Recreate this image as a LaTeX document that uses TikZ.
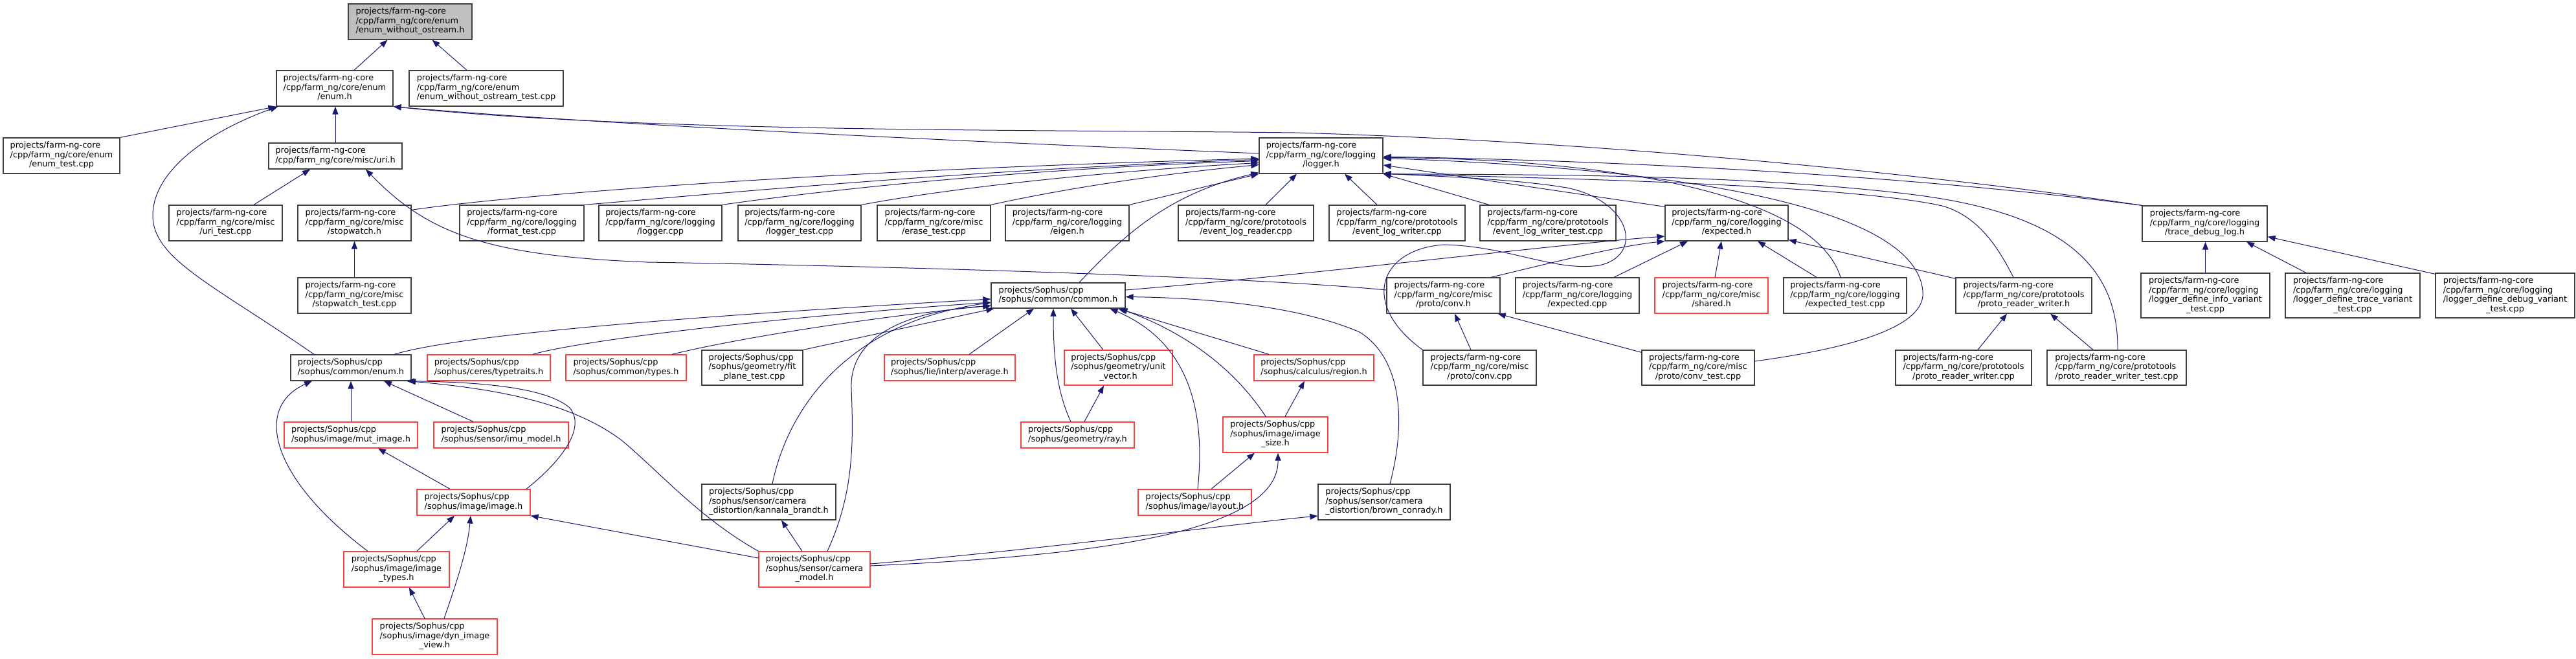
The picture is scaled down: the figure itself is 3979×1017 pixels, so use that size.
\documentclass[tikz,border=0pt]{standalone}
\usepackage{fontspec}
\setmainfont{DejaVu Sans}
\usepackage{tikz}
\usetikzlibrary{arrows.meta}
\definecolor{nodeln}{RGB}{64,64,64}
\definecolor{truncln}{RGB}{255,64,64}
\definecolor{rootfill}{RGB}{191,191,191}
\definecolor{deplink}{RGB}{25,25,112}
% first lines flush left, last line centred (doxygen style)
\newcommand{\dlabel}[2]{\begin{tabular}{@{}l@{}}#1\\\multicolumn{1}{@{}c@{}}{#2}\end{tabular}}

\begin{document}
\begin{tikzpicture}[x=1pt,y=-1pt,font=\fontsize{12.9}{14.5}\selectfont,
  >={Triangle[length=12pt,width=9pt]},
  box/.style n args={4}{minimum width={#3-#1},minimum height={#4-#2},at={({(#1+#3)/2},{(#2+#4)/2})}},
  hdr/.style={draw=nodeln,line width=1.3pt,fill=white,inner sep=0pt},
  trunc/.style={hdr,draw=truncln},
  root/.style={hdr,fill=rootfill},
  dep/.style={->,draw=deplink,line width=1pt}]
  \fill[white] (0,0) rectangle (3979,1017);
  \useasboundingbox (0,0) rectangle (3979,1017);

  % farm-ng-core
  \node[root,box={538}{6}{729}{61}] (ewo) {\dlabel{projects/farm-ng-core\\/cpp/farm\_ng/core/enum}{/enum\_without\_ostream.h}};
  \node[hdr,box={427}{109}{607}{164}] (enumh) {\dlabel{projects/farm-ng-core\\/cpp/farm\_ng/core/enum}{/enum.h}};
  \node[hdr,box={632}{109}{870}{164}] (ewotest) {\dlabel{projects/farm-ng-core\\/cpp/farm\_ng/core/enum}{/enum\_without\_ostream\_test.cpp}};
  \node[hdr,box={5}{213}{185}{268}] (enumtest) {\dlabel{projects/farm-ng-core\\/cpp/farm\_ng/core/enum}{/enum\_test.cpp}};
  \node[hdr,box={415}{221}{621}{261}] (urih) {\dlabel{projects/farm-ng-core}{/cpp/farm\_ng/core/misc/uri.h}};
  \node[hdr,box={1945}{213}{2136}{268}] (loggerh) {\dlabel{projects/farm-ng-core\\/cpp/farm\_ng/core/logging}{/logger.h}};
  \node[hdr,box={3309}{318}{3502}{373}] (tracelog) {\dlabel{projects/farm-ng-core\\/cpp/farm\_ng/core/logging}{/trace\_debug\_log.h}};
  \node[hdr,box={261}{317}{436}{372}] (uritest) {\dlabel{projects/farm-ng-core\\/cpp/farm\_ng/core/misc}{/uri\_test.cpp}};
  \node[hdr,box={460}{317}{635}{372}] (stopwatch) {\dlabel{projects/farm-ng-core\\/cpp/farm\_ng/core/misc}{/stopwatch.h}};
  \node[hdr,box={710}{317}{902}{372}] (formattest) {\dlabel{projects/farm-ng-core\\/cpp/farm\_ng/core/logging}{/format\_test.cpp}};
  \node[hdr,box={925}{317}{1115}{372}] (loggercpp) {\dlabel{projects/farm-ng-core\\/cpp/farm\_ng/core/logging}{/logger.cpp}};
  \node[hdr,box={1140}{317}{1330}{372}] (loggertest) {\dlabel{projects/farm-ng-core\\/cpp/farm\_ng/core/logging}{/logger\_test.cpp}};
  \node[hdr,box={1355}{317}{1530}{372}] (erasetest) {\dlabel{projects/farm-ng-core\\/cpp/farm\_ng/core/misc}{/erase\_test.cpp}};
  \node[hdr,box={1553}{317}{1744}{372}] (eigenh) {\dlabel{projects/farm-ng-core\\/cpp/farm\_ng/core/logging}{/eigen.h}};
  \node[hdr,box={1820}{317}{2029}{372}] (evreader) {\dlabel{projects/farm-ng-core\\/cpp/farm\_ng/core/prototools}{/event\_log\_reader.cpp}};
  \node[hdr,box={2053}{317}{2263}{372}] (evwriter) {\dlabel{projects/farm-ng-core\\/cpp/farm\_ng/core/prototools}{/event\_log\_writer.cpp}};
  \node[hdr,box={2286}{317}{2496}{372}] (evwritertest) {\dlabel{projects/farm-ng-core\\/cpp/farm\_ng/core/prototools}{/event\_log\_writer\_test.cpp}};
  \node[hdr,box={2572}{317}{2762}{372}] (expectedh) {\dlabel{projects/farm-ng-core\\/cpp/farm\_ng/core/logging}{/expected.h}};
  \node[hdr,box={3307}{422}{3506}{491}] (infovar) {\dlabel{projects/farm-ng-core\\/cpp/farm\_ng/core/logging\\/logger\_define\_info\_variant}{\_test.cpp}};
  \node[hdr,box={3530}{422}{3738}{491}] (tracevar) {\dlabel{projects/farm-ng-core\\/cpp/farm\_ng/core/logging\\/logger\_define\_trace\_variant}{\_test.cpp}};
  \node[hdr,box={3762}{422}{3977}{491}] (debugvar) {\dlabel{projects/farm-ng-core\\/cpp/farm\_ng/core/logging\\/logger\_define\_debug\_variant}{\_test.cpp}};
  \node[hdr,box={460}{429}{635}{484}] (stopwatchtest) {\dlabel{projects/farm-ng-core\\/cpp/farm\_ng/core/misc}{/stopwatch\_test.cpp}};
  \node[hdr,box={2142}{429}{2317}{484}] (convh) {\dlabel{projects/farm-ng-core\\/cpp/farm\_ng/core/misc}{/proto/conv.h}};
  \node[hdr,box={2341}{429}{2532}{484}] (expectedcpp) {\dlabel{projects/farm-ng-core\\/cpp/farm\_ng/core/logging}{/expected.cpp}};
  \node[trunc,box={2556}{429}{2731}{484}] (sharedh) {\dlabel{projects/farm-ng-core\\/cpp/farm\_ng/core/misc}{/shared.h}};
  \node[hdr,box={2755}{429}{2945}{484}] (expectedtest) {\dlabel{projects/farm-ng-core\\/cpp/farm\_ng/core/logging}{/expected\_test.cpp}};
  \node[hdr,box={3021}{429}{3231}{484}] (prwh) {\dlabel{projects/farm-ng-core\\/cpp/farm\_ng/core/prototools}{/proto\_reader\_writer.h}};
  \node[hdr,box={2198}{541}{2373}{595}] (convcpp) {\dlabel{projects/farm-ng-core\\/cpp/farm\_ng/core/misc}{/proto/conv.cpp}};
  \node[hdr,box={2536}{541}{2710}{595}] (convtest) {\dlabel{projects/farm-ng-core\\/cpp/farm\_ng/core/misc}{/proto/conv\_test.cpp}};
  \node[hdr,box={2928}{541}{3138}{595}] (prwcpp) {\dlabel{projects/farm-ng-core\\/cpp/farm\_ng/core/prototools}{/proto\_reader\_writer.cpp}};
  \node[hdr,box={3162}{541}{3377}{595}] (prwtest) {\dlabel{projects/farm-ng-core\\/cpp/farm\_ng/core/prototools}{/proto\_reader\_writer\_test.cpp}};

  % Sophus
  \node[hdr,box={1531}{437}{1738}{476}] (commonh) {\dlabel{projects/Sophus/cpp}{/sophus/common/common.h}};
  \node[hdr,box={449}{548}{635}{588}] (senum) {\dlabel{projects/Sophus/cpp}{/sophus/common/enum.h}};
  \node[trunc,box={660}{548}{850}{588}] (typetraits) {\dlabel{projects/Sophus/cpp}{/sophus/ceres/typetraits.h}};
  \node[trunc,box={874}{548}{1060}{588}] (types) {\dlabel{projects/Sophus/cpp}{/sophus/common/types.h}};
  \node[hdr,box={1084}{541}{1240}{595}] (fitplane) {\dlabel{projects/Sophus/cpp\\/sophus/geometry/fit}{\_plane\_test.cpp}};
  \node[trunc,box={1366}{548}{1568}{588}] (average) {\dlabel{projects/Sophus/cpp}{/sophus/lie/interp/average.h}};
  \node[trunc,box={1644}{541}{1811}{595}] (unitvec) {\dlabel{projects/Sophus/cpp\\/sophus/geometry/unit}{\_vector.h}};
  \node[trunc,box={1937}{548}{2122}{588}] (region) {\dlabel{projects/Sophus/cpp}{/sophus/calculus/region.h}};
  \node[trunc,box={439}{652}{645}{692}] (mutimage) {\dlabel{projects/Sophus/cpp}{/sophus/image/mut\_image.h}};
  \node[trunc,box={670}{652}{878}{692}] (imumodel) {\dlabel{projects/Sophus/cpp}{/sophus/sensor/imu\_model.h}};
  \node[trunc,box={1577}{652}{1752}{692}] (ray) {\dlabel{projects/Sophus/cpp}{/sophus/geometry/ray.h}};
  \node[trunc,box={1889}{644}{2051}{699}] (imagesize) {\dlabel{projects/Sophus/cpp\\/sophus/image/image}{\_size.h}};
  \node[trunc,box={644}{756}{819}{796}] (imageh) {\dlabel{projects/Sophus/cpp}{/sophus/image/image.h}};
  \node[trunc,box={1758}{756}{1933}{796}] (layout) {\dlabel{projects/Sophus/cpp}{/sophus/image/layout.h}};
  \node[hdr,box={1084}{748}{1291}{803}] (kannala) {\dlabel{projects/Sophus/cpp\\/sophus/sensor/camera}{\_distortion/kannala\_brandt.h}};
  \node[hdr,box={2036}{748}{2240}{803}] (brown) {\dlabel{projects/Sophus/cpp\\/sophus/sensor/camera}{\_distortion/brown\_conrady.h}};
  \node[trunc,box={531}{852}{694}{907}] (imagetypes) {\dlabel{projects/Sophus/cpp\\/sophus/image/image}{\_types.h}};
  \node[trunc,box={1172}{852}{1344}{907}] (cammodel) {\dlabel{projects/Sophus/cpp\\/sophus/sensor/camera}{\_model.h}};
  \node[trunc,box={575}{956}{768}{1011}] (dynview) {\dlabel{projects/Sophus/cpp\\/sophus/image/dyn\_image}{\_view.h}};

  % includes: child -> included header
  \draw[dep] ([xshift=30pt]enumh.north) -- ([xshift=-35pt]ewo.south);
  \draw[dep] ([xshift=-30pt]ewotest.north) -- ([xshift=34pt]ewo.south);
  \draw[dep] (enumtest.north east) -- (enumh.south west);
  \draw[dep] ([xshift=-57pt]senum.north) .. controls (330,440) and (236,400) .. (236,333) .. controls (236,260) and (330,200) .. ([xshift=3pt]enumh.south west);
  \draw[dep] (urih.north) -- (urih.north |- enumh.south);
  \draw[dep] ([yshift=3.5pt]loggerh.west) .. controls (1400,215) and (900,190) .. (enumh.south east);
  \draw[dep] (tracelog.north west) .. controls (3150,293) and (2600,222) .. (2000,205) .. controls (1600,200) and (1000,205) .. (enumh.south east);
  \draw[dep] (tracelog.north west) .. controls (3100,290) and (2700,252) .. ([yshift=-1.5pt]loggerh.east);
  \draw[dep] ([xshift=43.5pt]uritest.north) -- ([xshift=-39pt]urih.south);
  \draw[dep] ([yshift=8.5pt]convh.west) .. controls (1900,425) and (1300,410) .. (1000,405) .. controls (750,395) and (660,360) .. ([xshift=47pt]urih.south);
  \draw[dep] (stopwatchtest.north) -- (stopwatch.south);
  \draw[dep] ([yshift=-8pt]stopwatch.north east) .. controls (800,300) and (1300,262) .. ([yshift=-4.5pt]loggerh.west);
  \draw[dep] (formattest.north east) .. controls (1100,300) and (1500,262) .. ([yshift=-6pt]loggerh.west);
  \draw[dep] (loggercpp.north east) .. controls (1300,290) and (1600,260) .. ([yshift=-8pt]loggerh.west);
  \draw[dep] (loggertest.north east) .. controls (1500,285) and (1750,262) .. ([yshift=-11pt]loggerh.west);
  \draw[dep] (erasetest.north east) .. controls (1650,290) and (1800,268) .. ([yshift=-14pt]loggerh.west);
  \draw[dep] (eigenh.north east) -- (loggerh.south west);
  \draw[dep] ([xshift=32.5pt]commonh.north) .. controls (1730,370) and (1800,300) .. ([yshift=2pt]loggerh.south west);
  \draw[dep] ([xshift=30.5pt]evreader.north) -- ([xshift=-37.5pt]loggerh.south);
  \draw[dep] ([xshift=-31pt]evwriter.north) -- ([xshift=36.5pt]loggerh.south);
  \draw[dep] ([xshift=-91pt]evwritertest.north) -- (loggerh.south east);
  \draw[dep] ([yshift=-3pt]expectedh.north west) -- ([yshift=-14.5pt]loggerh.east);
  \draw[dep] ([xshift=-7pt]expectedtest.north) .. controls (2800,290) and (2450,245) .. ([yshift=-3pt]loggerh.east);
  \draw[dep] ([yshift=10pt]convtest.east) .. controls (2880,535) and (2975,500) .. (2970,450) .. controls (2960,330) and (2650,262) .. ([yshift=-4pt]loggerh.east);
  \draw[dep] ([xshift=1.5pt]prwtest.north) .. controls (3272,420) and (3200,330) .. (2950,300) .. controls (2700,270) and (2400,270) .. (loggerh.south east);
  \draw[dep] ([xshift=-16pt]prwh.north) .. controls (3090,390) and (3060,335) .. (3000,318) .. controls (2850,285) and (2400,275) .. (loggerh.south east);
  \draw[dep] (convcpp.north west) .. controls (2100,470) and (2130,385) .. (2230,378) .. controls (2330,380) and (2400,420) .. (2470,410) .. controls (2540,395) and (2520,310) .. (2420,290) .. controls (2330,275) and (2200,272) .. ([yshift=1pt]loggerh.south east);
  \draw[dep] ([xshift=73.5pt]convh.north) .. controls (2400,405) and (2500,380) .. (expectedh.south west);
  \draw[dep] ([yshift=8.5pt]commonh.east) .. controls (2000,427) and (2400,378) .. ([yshift=-20.5pt]expectedh.west);
  \draw[dep] ([xshift=56.5pt]expectedcpp.north) -- ([xshift=-60pt]expectedh.south);
  \draw[dep] ([xshift=5.5pt]sharedh.north) -- ([xshift=-8pt]expectedh.south);
  \draw[dep] ([xshift=-44pt]expectedtest.north) -- ([xshift=48pt]expectedh.south);
  \draw[dep] ([yshift=-2pt]prwh.north west) -- ([yshift=2pt]expectedh.south east);
  \draw[dep] ([xshift=-13.5pt]convcpp.north) -- ([xshift=17.5pt]convh.south);
  \draw[dep] ([yshift=-4pt]convtest.north west) -- ([xshift=-4pt]convh.south east);
  \draw[dep] (infovar.north) -- (infovar.north |- tracelog.south);
  \draw[dep] ([xshift=-72pt]tracevar.north) -- ([xshift=64.5pt]tracelog.south);
  \draw[dep] ([yshift=-2pt]debugvar.north west) -- ([yshift=8pt]tracelog.south east);
  \draw[dep] ([xshift=22pt]prwcpp.north) -- ([xshift=-26pt]prwh.south);
  \draw[dep] ([xshift=-36.5pt]prwtest.north) -- ([xshift=41pt]prwh.south);

  \draw[dep] ([xshift=67pt]senum.north) .. controls (700,520) and (1000,492) .. ([yshift=-5.5pt]commonh.west);
  \draw[dep] ([xshift=68pt]typetraits.north) .. controls (900,525) and (1200,490) .. ([yshift=-10.5pt]commonh.west);
  \draw[dep] ([xshift=71pt]types.north) .. controls (1150,520) and (1350,490) .. ([yshift=-15.5pt]commonh.west);
  \draw[dep] (fitplane.north east) -- ([xshift=5pt]commonh.south west);
  \draw[dep] ([xshift=30pt]average.north) -- ([xshift=-37.5pt]commonh.south);
  \draw[dep] ([xshift=-23.5pt]unitvec.north) -- ([xshift=19.5pt]commonh.south);
  \draw[dep] ([xshift=-10.5pt]ray.north) .. controls (1630,600) and (1627,540) .. ([xshift=-7.5pt]commonh.south);
  \draw[dep] ([xshift=-69.5pt]region.north) -- ([xshift=92.5pt]commonh.south);
  \draw[dep] ([xshift=-15pt]imagesize.north) .. controls (1900,560) and (1820,510) .. ([xshift=95pt]commonh.south);
  \draw[dep] ([xshift=4.5pt]layout.north) .. controls (1862,640) and (1840,530) .. ([xshift=80pt]commonh.south);
  \draw[dep] ([xshift=5.5pt]kannala.north) .. controls (1215,640) and (1300,500) .. ([yshift=-11pt]commonh.west);
  \draw[dep] ([xshift=20pt]cammodel.north) .. controls (1320,760) and (1318,680) .. (1315,600) .. controls (1312,520) and (1400,480) .. ([yshift=-16pt]commonh.west);
  \draw[dep] ([xshift=9pt]brown.north) .. controls (2175,640) and (2160,550) .. (2100,513) .. controls (2000,470) and (1850,460) .. ([yshift=-2pt]commonh.east);
  \draw[dep] (mutimage.north) -- (senum.south);
  \draw[dep] ([xshift=-43pt]imumodel.north) -- ([xshift=51pt]senum.south);
  \draw[dep] ([xshift=81.5pt]imageh.north) .. controls (870,710) and (905,660) .. (880,630) .. controls (840,595) and (720,590) .. ([xshift=86pt]senum.south);
  \draw[dep] ([xshift=-44.5pt]imagetypes.north) .. controls (420,740) and (390,630) .. ([xshift=-60pt]senum.south);
  \draw[dep] (cammodel.north west) .. controls (1080,800) and (1020,730) .. (960,680) .. controls (880,620) and (760,600) .. ([xshift=88pt]senum.south);
  \draw[dep] ([xshift=-36.5pt]imageh.north) -- ([xshift=42pt]mutimage.south);
  \draw[dep] ([xshift=31.5pt]imagetypes.north) -- ([xshift=-29.5pt]imageh.south);
  \draw[dep] ([xshift=14.5pt]dynview.north) .. controls (705,900) and (722,850) .. ([xshift=-4.5pt]imageh.south);
  \draw[dep] ([xshift=-15.5pt]dynview.north) -- ([xshift=19.5pt]imagetypes.south);
  \draw[dep] ([yshift=17.5pt]cammodel.west) -- (imageh.south east);
  \draw[dep] ([xshift=10.5pt]ray.north) -- ([xshift=-22.5pt]unitvec.south);
  \draw[dep] ([xshift=15pt]imagesize.north) -- ([xshift=-14.5pt]region.south);
  \draw[dep] ([xshift=25.5pt]layout.north) -- ([xshift=-32pt]imagesize.south);
  \draw[dep] ([yshift=5.5pt]cammodel.east) .. controls (1650,860) and (1975,830) .. ([xshift=4pt]imagesize.south);
  \draw[dep] ([yshift=8.5pt]cammodel.east) .. controls (1600,850) and (1900,810) .. ([yshift=-21.5pt]brown.west);
  \draw[dep] ([xshift=-19pt]cammodel.north) -- ([xshift=19.5pt]kannala.south);
\end{tikzpicture}
\end{document}
